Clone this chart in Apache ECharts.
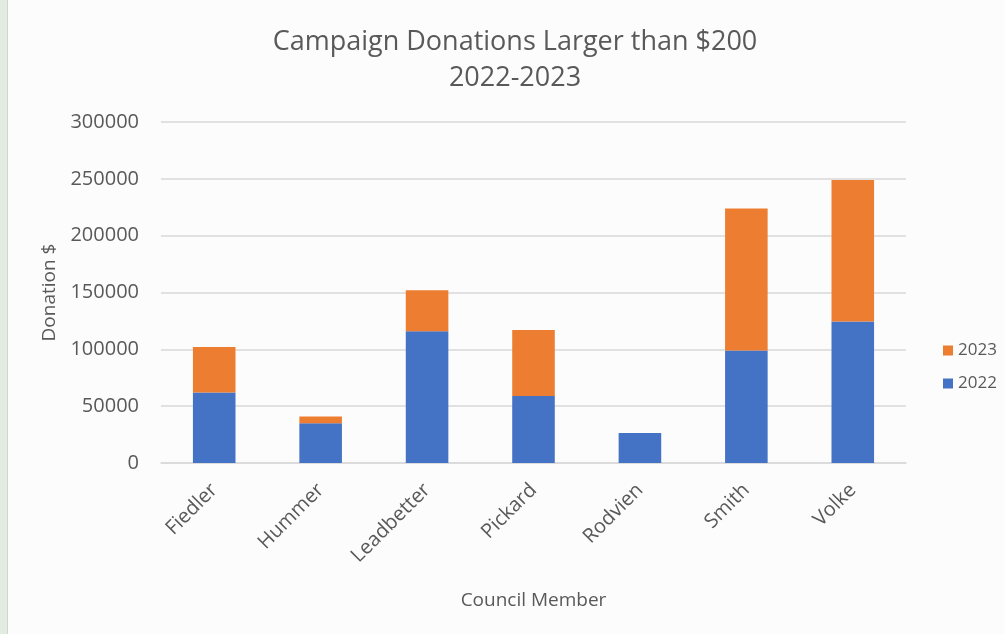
<!DOCTYPE html>
<html>
<head>
<meta charset="utf-8">
<script src="https://cdn.jsdelivr.net/npm/echarts@6/dist/echarts.min.js"></script>
<style>
html,body{margin:0;padding:0;background:#fcfcfc;}
#wrap{position:absolute;left:0;top:0;width:1005px;height:634px;background:#fcfcfc;}
#strip{position:absolute;left:0;top:0;width:7px;height:634px;background:#e2ece0;border-right:1px solid #cfd8cc;}
#chart{position:absolute;left:0;top:0;width:1005px;height:634px;}
</style>
</head>
<body>
<div id="wrap"><div id="chart"></div><div id="strip"></div></div>
<script>
const categories = ['Fiedler','Hummer','Leadbetter','Pickard','Rodvien','Smith','Volke'];
const values2022 = [62000, 35000, 116000, 59000, 26500, 99000, 124500];
const values2023 = [40000, 6000, 36000, 58000, 0, 125000, 124500];
const yTicks = [0, 50000, 100000, 150000, 200000, 250000, 300000];

const FONT = '"Open Sans", "Noto Sans", sans-serif';
const chart = echarts.init(document.getElementById('chart'));
chart.setOption({
  backgroundColor: 'transparent',
  animation: false,
  textStyle: {fontFamily: FONT},
  title: {
    text: 'Campaign Donations Larger than $200\n2022-2023',
    left: 510,
    textAlign: 'center',
    top: 19,
    textStyle: {fontFamily: FONT, fontSize: 27, fontWeight: 'normal', color: '#595959', lineHeight: 36}
  },
  legend: {
    data: ['2023', '2022'],
    orient: 'vertical',
    left: 938,
    top: 337,
    itemWidth: 10,
    itemHeight: 10,
    itemGap: 16,
    icon: 'rect',
    textStyle: {fontFamily: FONT, fontSize: 17, color: '#595959'}
  },
  grid: {left: 161, right: 99, top: 122, bottom: 171, containLabel: false},
  xAxis: {
    type: 'category',
    data: categories,
    name: 'Council Member',
    nameLocation: 'middle',
    nameGap: 128,
    nameTextStyle: {fontFamily: FONT, fontSize: 19, color: '#595959'},
    axisLine: {lineStyle: {color: '#d9d9d9', width: 1.5}},
    axisTick: {show: false},
    axisLabel: {rotate: 45, fontFamily: FONT, fontSize: 20, color: '#595959', margin: 24, interval: 0}
  },
  yAxis: {
    type: 'value',
    min: yTicks[0],
    max: yTicks[yTicks.length - 1],
    interval: 50000,
    name: 'Donation $',
    nameLocation: 'middle',
    nameGap: 102,
    nameRotate: 90,
    nameTextStyle: {fontFamily: FONT, fontSize: 19, color: '#595959'},
    axisLine: {show: false},
    axisTick: {show: false},
    axisLabel: {fontFamily: FONT, fontSize: 20, color: '#595959', margin: 22,
      formatter: function (v) { return String(v); }},
    splitLine: {lineStyle: {color: '#d9d9d9', width: 1.5}}
  },
  series: [
    {name: '2022', type: 'bar', stack: 'total', data: values2022, barWidth: '40%',
     itemStyle: {color: '#4472c4'}},
    {name: '2023', type: 'bar', stack: 'total', data: values2023, barWidth: '40%',
     itemStyle: {color: '#ed7d31'}}
  ]
});
</script>
</body>
</html>
